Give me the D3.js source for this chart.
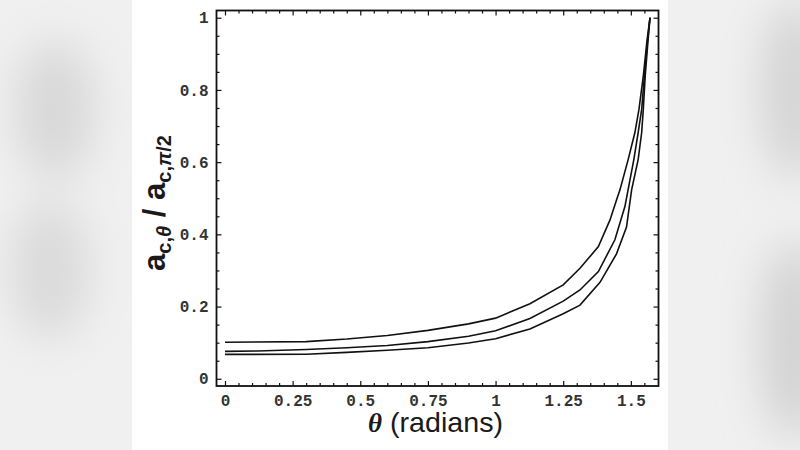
<!DOCTYPE html>
<html>
<head>
<meta charset="utf-8">
<script src="https://cdn.jsdelivr.net/npm/d3@7"></script>
<style>
  html, body { margin: 0; padding: 0; background: #efefef; }
  svg { display: block; }
</style>
</head>
<body>
<svg id="chart" width="800" height="450"></svg>
<script>
// ---- data ----
const thetaTop = [0, 0.3, 0.45, 0.6, 0.75, 0.9, 1.0, 1.127, 1.25, 1.312, 1.38, 1.423, 1.447, 1.46, 1.49, 1.515, 1.53, 1.546, 1.559, 1.5708];
const ratioTop = [0.101, 0.103, 0.110, 0.120, 0.134, 0.152, 0.168, 0.208, 0.260, 0.306, 0.366, 0.440, 0.495, 0.524, 0.607, 0.682, 0.746, 0.838, 0.932, 1.0];

const thetaMid = [0, 0.12, 0.3, 0.45, 0.6, 0.75, 0.9, 1.0, 1.127, 1.25, 1.312, 1.38, 1.441, 1.478, 1.511, 1.527, 1.54, 1.55, 1.561, 1.5708];
const ratioMid = [0.076, 0.077, 0.081, 0.086, 0.092, 0.103, 0.118, 0.133, 0.167, 0.215, 0.246, 0.297, 0.385, 0.477, 0.607, 0.682, 0.746, 0.838, 0.932, 1.0];

const thetaLow = [0, 0.3, 0.45, 0.6, 0.75, 0.9, 1.0, 1.127, 1.25, 1.312, 1.386, 1.447, 1.484, 1.503, 1.527, 1.54, 1.546, 1.553, 1.563, 1.5708];
const ratioLow = [0.0675, 0.068, 0.073, 0.079, 0.086, 0.099, 0.111, 0.138, 0.180, 0.204, 0.267, 0.346, 0.420, 0.524, 0.607, 0.682, 0.746, 0.838, 0.932, 1.0];

const xTickValues = [0, 0.25, 0.5, 0.75, 1, 1.25, 1.5];
const xTickLabels = ["0", "0.25", "0.5", "0.75", "1", "1.25", "1.5"];
const yTickValues = [0, 0.2, 0.4, 0.6, 0.8, 1];
const yTickLabels = ["0", "0.2", "0.4", "0.6", "0.8", "1"];

// ---- drawing ----
(function () {
const svg = d3.select("#chart");

// blurred background on the sides
const defs = svg.append("defs");
defs.append("filter").attr("id", "blur")
  .attr("x", "-50%").attr("y", "-50%").attr("width", "200%").attr("height", "200%")
  .append("feGaussianBlur").attr("stdDeviation", 22);
svg.append("rect").attr("width", 800).attr("height", 450).attr("fill", "#f0f0f0");
const blobs = [
  {cx: 55, cy: 110, rx: 40, ry: 70, c: "#d8d8d8"},
  {cx: 50, cy: 270, rx: 40, ry: 70, c: "#dadada"},
  {cx: 795, cy: 90, rx: 35, ry: 90, c: "#d4d4d4"},
  {cx: 795, cy: 340, rx: 35, ry: 100, c: "#d2d2d2"}
];
svg.append("g").attr("filter", "url(#blur)").selectAll("ellipse").data(blobs).join("ellipse")
  .attr("cx", d => d.cx).attr("cy", d => d.cy).attr("rx", d => d.rx).attr("ry", d => d.ry)
  .attr("fill", d => d.c);
svg.append("rect").attr("x", 132).attr("y", 0).attr("width", 536).attr("height", 450).attr("fill", "#ffffff");

const pLeft = 216.5, pRight = 658.5, pTop = 10.5, pBottom = 386;
const x = d3.scaleLinear().domain([-0.0314, 1.6022]).range([pLeft, pRight]);
const y = d3.scaleLinear().domain([-0.02, 1.02]).range([pBottom, pTop]);

const minorX = d3.range(0, 1.6, 0.05).filter(v => Math.abs(v / 0.25 - Math.round(v / 0.25)) > 1e-6);
const minorY = d3.range(0, 1.0001, 0.05).filter(v => Math.abs(v / 0.2 - Math.round(v / 0.2)) > 1e-6);

function styleAxis(g) {
  g.select(".domain").remove();
  g.selectAll(".tick line").attr("stroke", "#111").attr("stroke-width", 1.2);
  g.selectAll(".tick text").attr("fill", "#333")
    .style("font-family", "'Liberation Mono', 'DejaVu Sans Mono', monospace")
    .style("font-weight", "bold")
    .style("font-size", "16px");
}

// bottom axis
svg.append("g").attr("transform", `translate(0,${pBottom})`)
  .call(d3.axisBottom(x).tickValues(xTickValues).tickSize(-5).tickPadding(9)
    .tickFormat((d, i) => xTickLabels[i]))
  .call(styleAxis);
svg.append("g").attr("transform", `translate(0,${pBottom})`)
  .call(d3.axisBottom(x).tickValues(minorX).tickSize(-3).tickFormat(""))
  .call(styleAxis);
// top axis
svg.append("g").attr("transform", `translate(0,${pTop})`)
  .call(d3.axisTop(x).tickValues(xTickValues).tickSize(-5).tickFormat(""))
  .call(styleAxis);
svg.append("g").attr("transform", `translate(0,${pTop})`)
  .call(d3.axisTop(x).tickValues(minorX).tickSize(-3).tickFormat(""))
  .call(styleAxis);
// left axis
svg.append("g").attr("transform", `translate(${pLeft},0)`)
  .call(d3.axisLeft(y).tickValues(yTickValues).tickSize(-5).tickPadding(8)
    .tickFormat((d, i) => yTickLabels[i]))
  .call(styleAxis);
svg.append("g").attr("transform", `translate(${pLeft},0)`)
  .call(d3.axisLeft(y).tickValues(minorY).tickSize(-3).tickFormat(""))
  .call(styleAxis);
// right axis
svg.append("g").attr("transform", `translate(${pRight},0)`)
  .call(d3.axisRight(y).tickValues(yTickValues).tickSize(-5).tickFormat(""))
  .call(styleAxis);
svg.append("g").attr("transform", `translate(${pRight},0)`)
  .call(d3.axisRight(y).tickValues(minorY).tickSize(-3).tickFormat(""))
  .call(styleAxis);

// frame
svg.append("rect").attr("x", pLeft).attr("y", pTop)
  .attr("width", pRight - pLeft).attr("height", pBottom - pTop)
  .attr("fill", "none").attr("stroke", "#111").attr("stroke-width", 1.8);

// curves
const series = [
  {t: thetaTop, r: ratioTop},
  {t: thetaMid, r: ratioMid},
  {t: thetaLow, r: ratioLow}
];
const line = d3.line().x(d => x(d[0])).y(d => y(d[1]));
svg.append("g").selectAll("path").data(series).join("path")
  .attr("d", s => line(s.t.map((t, i) => [t, s.r[i]])))
  .attr("fill", "none").attr("stroke", "#111").attr("stroke-width", 1.6);

// y-axis label
const yl = svg.append("text")
  .attr("transform", "translate(165,203) rotate(-90)")
  .attr("text-anchor", "middle")
  .attr("fill", "#1a1a1a")
  .style("font-family", "'Liberation Sans', Arial, sans-serif")
  .style("font-weight", "bold")
  .style("font-size", "31px");
yl.append("tspan").text("a");
yl.append("tspan").attr("dy", 6).style("font-size", "20px").text("c,");
yl.append("tspan").style("font-size", "20px").style("font-style", "italic").text("θ");
yl.append("tspan").attr("dy", -6).text(" / a");
yl.append("tspan").attr("dy", 6).style("font-size", "20px").text("c,");
yl.append("tspan").style("font-size", "20px").style("font-style", "italic").text("π");
yl.append("tspan").style("font-size", "20px").text("/2");

// x-axis label
svg.append("text").attr("x", 368).attr("y", 432)
  .style("font-family", "'Liberation Serif', 'Times New Roman', serif")
  .style("font-size", "27px").style("font-weight", "bold").style("font-style", "italic")
  .attr("fill", "#1a1a1a").text("θ");
svg.append("text").attr("x", 390).attr("y", 432)
  .attr("textLength", 113).attr("lengthAdjust", "spacingAndGlyphs")
  .style("font-family", "'Liberation Sans', Arial, sans-serif")
  .style("font-size", "28px")
  .attr("fill", "#1a1a1a").text("(radians)");
})();
</script>
</body>
</html>
